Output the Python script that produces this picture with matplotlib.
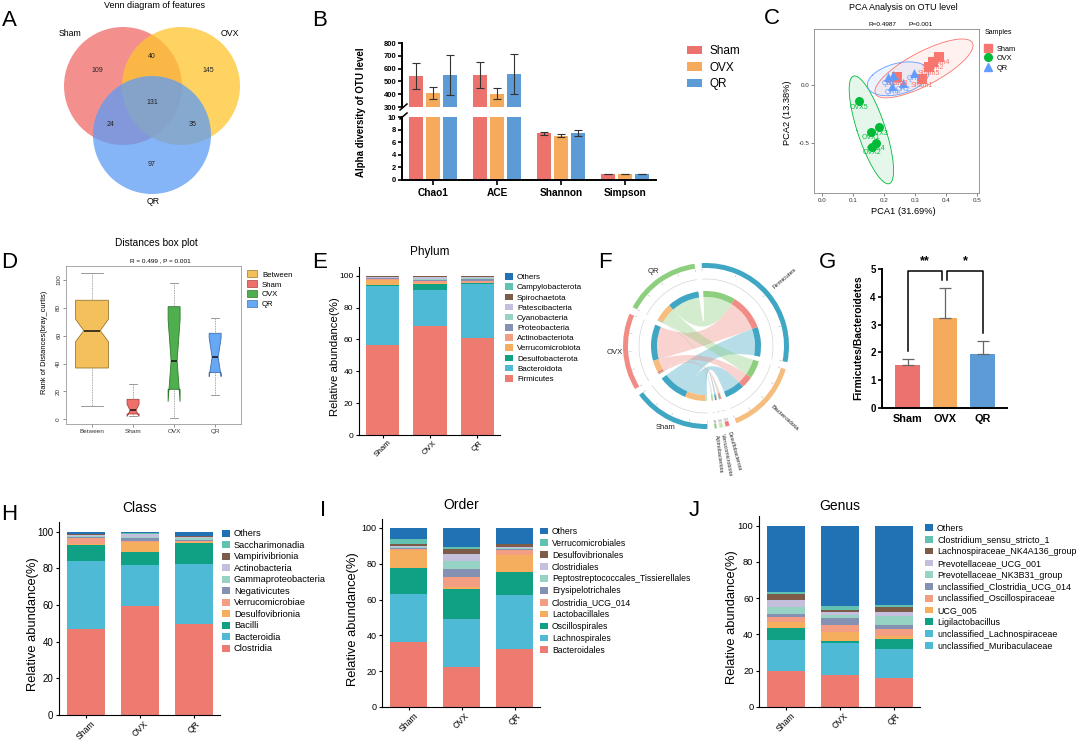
import numpy as np
import matplotlib
matplotlib.use('Agg')
import matplotlib.pyplot as plt
from matplotlib.patches import Circle, Wedge, PathPatch, Patch
from matplotlib.path import Path
from matplotlib.lines import Line2D

plt.rcParams['font.family'] = ['Liberation Sans', 'DejaVu Sans']
plt.rcParams['axes.linewidth'] = 0.8

W, H = 1080, 740

# ---------------- data ----------------
groups = ['Sham', 'OVX', 'QR']

# A  venn counts: Sham only, OVX only, QR only, Sham&OVX, Sham&QR, OVX&QR, all three
venn_counts = [109, 145, 97, 40, 24, 35, 131]

# B  alpha diversity
alpha_idx = ['Chao1', 'ACE', 'Shannon', 'Simpson']
sham_alpha = [545, 548, 7.42, 0.99]
ovx_alpha = [410, 405, 7.05, 0.99]
qr_alpha = [550, 558, 7.42, 0.99]
sham_alpha_sd = [102, 100, 0.20, 0.01]
ovx_alpha_sd = [47, 45, 0.30, 0.01]
qr_alpha_sd = [153, 155, 0.45, 0.02]

# C  PCA scores (sample 1..5)
sham_pc1 = [0.323, 0.357, 0.241, 0.377, 0.345]
sham_pc2 = [0.050, 0.204, 0.070, 0.247, 0.155]
ovx_pc1 = [0.158, 0.161, 0.182, 0.174, 0.120]
ovx_pc2 = [-0.400, -0.529, -0.362, -0.495, -0.135]
qr_pc1 = [0.214, 0.262, 0.295, 0.225, 0.230]
qr_pc2 = [0.070, 0.017, 0.109, -0.006, 0.089]

# D  distance ranks box stats
box_names = ['Between', 'Sham', 'OVX', 'QR']
box_n = [75, 10, 10, 10]
box_whislo = [9.3, 2.6, 1.2, 17.2]
box_q1 = [36.8, 3.8, 21.5, 33.5]
box_med = [63.6, 6.4, 42.0, 44.5]
box_q3 = [85.4, 14.3, 80.8, 61.7]
box_whishi = [105, 25.1, 98, 72.5]
box_cilo = [55.7, 2.0, 12.6, 30.6]
box_cihi = [71.8, 10.8, 71.4, 58.4]

# E  phylum (%)
phylum_names = ['Firmicutes', 'Bacteroidota', 'Desulfobacterota', 'Verrucomicrobiota',
                'Actinobacteriota', 'Proteobacteria', 'Cyanobacteria', 'Patescibacteria',
                'Spirochaetota', 'Campylobacterota', 'Others']
phylum_sham = [56.3, 37.2, 0.8, 3.0, 0.4, 0.6, 0.5, 0.3, 0.5, 0.2, 0.2]
phylum_ovx = [68.6, 22.6, 3.6, 0.6, 1.2, 0.6, 0.5, 1.8, 0.2, 0.1, 0.2]
phylum_qr = [61.1, 33.5, 0.6, 0.4, 1.0, 1.3, 0.4, 1.2, 0.2, 0.1, 0.2]

# G  F/B ratio
fb_ratio = [1.55, 3.25, 1.93]
fb_err = [0.20, 1.07, 0.48]

# H  class (%)
class_names = ['Clostridia', 'Bacteroidia', 'Bacilli', 'Desulfovibrionia', 'Verrucomicrobiae',
               'Negativicutes', 'Gammaproteobacteria', 'Actinobacteria', 'Vampirivibrionia',
               'Saccharimonadia', 'Others']
class_sham = [46.8, 37.0, 8.9, 0.8, 3.1, 0.6, 0.5, 0.4, 0.6, 0.3, 1.0]
class_ovx = [59.2, 22.8, 7.2, 5.0, 0.6, 1.5, 1.0, 1.2, 0.3, 0.5, 0.7]
class_qr = [49.7, 32.8, 11.3, 0.5, 0.4, 0.8, 0.9, 0.6, 0.5, 0.3, 2.2]

# I  order (%)
order_names = ['Bacteroidales', 'Lachnospirales', 'Oscillospirales', 'Lactobacillales',
               'Clostridia_UCG_014', 'Erysipelotrichales', 'Peptostreptococcales_Tissierellales',
               'Clostridiales', 'Desulfovibrionales', 'Verrucomicrobiales', 'Others']
order_sham = [36.5, 26.6, 14.7, 9.9, 0.8, 0.5, 0.5, 0.6, 0.8, 2.8, 6.3]
order_ovx = [22.2, 26.8, 16.8, 1.4, 5.2, 4.8, 4.2, 3.9, 3.1, 0.9, 10.7]
order_qr = [32.2, 30.6, 12.7, 9.3, 2.8, 0.6, 0.6, 0.5, 1.5, 0.2, 9.0]

# J  genus (%)
genus_names = ['unclassified_Muribaculaceae', 'unclassified_Lachnospiraceae', 'Ligilactobacillus',
               'UCG_005', 'unclassified_Oscillospiraceae', 'unclassified_Clostridia_UCG_014',
               'Prevotellaceae_NK3B31_group', 'Prevotellaceae_UCG_001',
               'Lachnospiraceae_NK4A136_group', 'Clostridium_sensu_stricto_1', 'Others']
genus_sham = [20.0, 17.0, 6.3, 3.7, 2.7, 1.3, 4.2, 3.6, 3.3, 1.3, 36.6]
genus_ovx = [17.4, 17.8, 1.3, 5.1, 3.7, 4.0, 1.5, 1.3, 1.5, 2.2, 44.2]
genus_qr = [16.0, 16.0, 5.7, 1.3, 4.0, 2.4, 4.6, 2.5, 2.6, 1.3, 43.6]

# ---------------- styles ----------------
bar_col = ['#EC736D', '#F5AB5B', '#5C9BD5']
gg_col = ['#F8766D', '#00BA38', '#619CFF']
box_face = ['#F3C05C', '#EF706B', '#4FAF4F', '#66A8F3']
box_edge = ['#9A7830', '#A8443F', '#2D7A2D', '#3F70AE']
taxa_pal = ['#EE7B70', '#4FBAD6', '#10A084', '#F4AE5D', '#F39D82', '#8591B3',
            '#97D3C4', '#C4BFDD', '#7C5C48', '#62C2B1', '#2171B5']

fig = plt.figure(figsize=(W / 100, H / 100), dpi=100)


def px_axes(x0, y0, x1, y1):
    return fig.add_axes([x0 / W, 1 - y1 / H, (x1 - x0) / W, (y1 - y0) / H])


def ftext(x, y, s, **kw):
    kw.setdefault('ha', 'center')
    kw.setdefault('va', 'center')
    fig.text(x / W, 1 - y / H, s, **kw)


def px_legend(ax, handles, labels, x, y, fs, row_px, hl_px, hh_px, pad_px):
    fpx = fs * 100 / 72
    return ax.legend(handles, labels, loc='upper left',
                     bbox_to_anchor=(x / W, 1 - (y - 0.6 * fpx) / H),
                     bbox_transform=fig.transFigure, frameon=False, fontsize=fs,
                     borderpad=0, borderaxespad=0, handlelength=hl_px / fpx,
                     handleheight=hh_px / fpx, handletextpad=pad_px / fpx,
                     labelspacing=max(row_px / fpx - 1.15, 0))


letters = [('A', 9, 20), ('B', 320, 20), ('C', 772, 19), ('D', 9, 263), ('E', 320, 263),
           ('F', 605, 263), ('G', 828, 263), ('H', 9, 514), ('I', 323, 511), ('J', 694, 510)]
for s, x, y in letters:
    ftext(x, y, s, fontsize=16)

# ---------------- A: venn ----------------
axa = px_axes(0, 0, 300, 230)
axa.set_xlim(0, 300)
axa.set_ylim(230, 0)
axa.axis('off')
venn_circles = [((123, 86), '#F06B67'), ((181, 86), '#FFC52E'), ((152, 135), '#5D9CF5')]
for (c, col) in venn_circles:
    axa.add_patch(Circle(c, 59, facecolor=col, alpha=0.75, lw=0))
venn_pos = [(97, 71), (208, 71), (152, 164), (152, 57), (111, 125), (193, 125), (152, 102)]
for (x, y), n in zip(venn_pos, venn_counts):
    axa.text(x, y, str(n), fontsize=5, ha='center', va='center', color='#222222')
for (x, y), g in zip([(70, 33), (230, 33), (153, 202)], groups):
    axa.text(x, y, g, fontsize=6.3, ha='center', va='center')
ftext(155, 5, 'Venn diagram of features', fontsize=6.5)

# ---------------- B: alpha diversity ----------------
axb_top = px_axes(402, 43, 656, 107)
axb_bot = px_axes(402, 117, 656, 180)
xb = np.arange(len(alpha_idx))
means = [sham_alpha, ovx_alpha, qr_alpha]
sds = [sham_alpha_sd, ovx_alpha_sd, qr_alpha_sd]
for ax in (axb_top, axb_bot):
    for i in range(3):
        ax.bar(xb + (i - 1) * 0.266, means[i], 0.22, color=bar_col[i], yerr=sds[i],
               capsize=2.8, error_kw=dict(elinewidth=0.8, ecolor='#333333', capthick=0.8),
               label=groups[i])
    ax.set_xlim(-0.484, 3.484)
    for sp in ['top', 'right']:
        ax.spines[sp].set_visible(False)
    ax.spines['left'].set_linewidth(1.4)
    ax.tick_params(axis='y', labelsize=5.5, width=1.2, length=3, pad=1)
axb_top.set_ylim(300, 800)
axb_top.set_yticks(range(300, 801, 100))
axb_top.spines['bottom'].set_visible(False)
axb_top.set_xticks([])
axb_bot.set_ylim(0, 10)
axb_bot.set_yticks(range(0, 11, 2))
axb_bot.spines['bottom'].set_linewidth(1.4)
axb_bot.set_xticks(xb)
axb_bot.set_xticklabels(alpha_idx, fontsize=7.3, fontweight='bold')
axb_bot.tick_params(axis='x', width=1.2, length=3.5, pad=2)
for lab in axb_top.get_yticklabels() + axb_bot.get_yticklabels():
    lab.set_fontweight('bold')
for yb in (107, 116):
    fig.add_artist(Line2D([400 / W, 407 / W], [1 - (yb + 3) / H, 1 - (yb - 3) / H],
                          color='black', lw=1.1))
ftext(361, 112, 'Alpha diversity of OTU level', fontsize=7, fontweight='bold', rotation=90)
hb, lb = axb_top.get_legend_handles_labels()
px_legend(axb_top, hb, lb, 687, 52, 8.5, 18.3, 15, 8, 8)

# ---------------- C: PCA ----------------
axc = px_axes(814, 29, 979, 193)
axc.set_xlim(-0.026, 0.506)
axc.set_ylim(-0.928, 0.485)
pcs = [(sham_pc1, sham_pc2), (ovx_pc1, ovx_pc2), (qr_pc1, qr_pc2)]
marks = ['s', 'o', '^']


def conf_ellipse(ax, xs, ys, color, scale=3.0):
    pts = np.column_stack([xs, ys])
    mu = pts.mean(0)
    vals, vecs = np.linalg.eigh(np.cov(pts.T))
    t = np.linspace(0, 2 * np.pi, 200)
    circ = np.column_stack([np.cos(t), np.sin(t)]) * np.sqrt(vals) * scale
    ell = mu + circ @ vecs.T
    ax.fill(ell[:, 0], ell[:, 1], color=color, alpha=0.1, lw=0)
    ax.plot(ell[:, 0], ell[:, 1], color=color, lw=0.6)


for i, (px, py) in enumerate(pcs):
    conf_ellipse(axc, px, py, gg_col[i])
for i, (g, (px, py)) in enumerate(zip(groups, pcs)):
    axc.scatter(px, py, marker=marks[i], s=42, color=gg_col[i], zorder=3, lw=0)
    for k, (a, b) in enumerate(zip(px, py)):
        axc.annotate(f'{g}{k + 1}', (a, b), xytext=(0, -4.5), textcoords='offset points',
                     ha='center', va='center', fontsize=5, color=gg_col[i], zorder=4)
axc.set_xticks(np.arange(0, 0.51, 0.1))
axc.set_xticklabels([f'{v:.1f}' for v in np.arange(0, 0.51, 0.1)])
axc.set_yticks([0.0, -0.5])
axc.set_yticklabels(['0.0', '-0.5'])
axc.tick_params(labelsize=4.5, length=2, width=0.5, color='#555555', pad=1.5,
                labelcolor='#333333')
for sp in axc.spines.values():
    sp.set_color('#888888')
    sp.set_linewidth(0.6)
ftext(903, 8, 'PCA Analysis on OTU level', fontsize=6.5)
ftext(882, 24, 'R=0.4987', fontsize=4.6)
ftext(921, 24, 'P=0.001', fontsize=4.6)
ftext(903, 211, 'PCA1 (31.69%)', fontsize=6.7)
ftext(788, 113, 'PCA2 (13.38%)', fontsize=6.7, rotation=90)
ftext(985, 33, 'Samples', fontsize=5, ha='left')
hc = [Line2D([], [], marker=m, color=c, ls='none', markersize=5.5) for m, c in zip(marks, gg_col)]
px_legend(axc, hc, groups, 983, 49, 5.3, 10, 10, 8, 4)

# ---------------- D: box plot ----------------
axd = px_axes(66, 266, 241, 424)
box_w = [0.8 * np.sqrt(n / max(box_n)) for n in box_n]
stats = [dict(med=m, q1=a, q3=b, whislo=lo, whishi=hi, cilo=cl, cihi=ch, fliers=[], label=n)
         for n, lo, a, m, b, hi, cl, ch in zip(box_names, box_whislo, box_q1, box_med, box_q3,
                                               box_whishi, box_cilo, box_cihi)]
bp = axd.bxp(stats, positions=[1, 2, 3, 4], widths=box_w, shownotches=True, patch_artist=True,
             showfliers=False, capwidths=[0.65 * w for w in box_w],
             whiskerprops=dict(ls=(0, (1, 1)), color='#8A8A8A', lw=0.6),
             capprops=dict(color='#8A8A8A', lw=0.6),
             medianprops=dict(color='#111111', lw=1.1))
for patch, fc, ec in zip(bp['boxes'], box_face, box_edge):
    patch.set_facecolor(fc)
    patch.set_edgecolor(ec)
    patch.set_linewidth(0.6)
axd.set_xlim(0.366, 4.63)
axd.set_ylim(-3.4, 110)
axd.set_yticks(range(0, 101, 20))
axd.tick_params(labelsize=4.6, length=2, width=0.5, color='#666666', labelcolor='#333333', pad=1.5)
for lab in axd.get_yticklabels():
    lab.set_rotation(90)
    lab.set_va('center')
for sp in axd.spines.values():
    sp.set_color('#9A9A9A')
    sp.set_linewidth(0.6)
ftext(156, 243, 'Distances box plot', fontsize=7.3)
ftext(160, 261, 'R = 0.499 , P = 0.001', fontsize=4.6)
ftext(45, 342, 'Rank of Distances(bray_curtis)', fontsize=5.4, rotation=90)
hd = [Patch(facecolor=fc, edgecolor=ec, lw=0.5) for fc, ec in zip(box_face, box_edge)]
px_legend(axd, hd, box_names, 247, 275, 5.6, 10.7, 10, 8, 5)


# ---------------- stacked bars ----------------
def stacked(box, names, cols, title, title_y, ylab_x, leg, leg_colors=None):
    x0, y0, x1, y1, ymax = box
    ax = px_axes(x0, y0, x1, y1)
    vals = np.array(cols).T
    bottom = np.zeros(3)
    for k, name in enumerate(names):
        ax.bar(np.arange(3), vals[k], 0.7, bottom=bottom, color=taxa_pal[k], label=name, lw=0)
        bottom += vals[k]
    ax.set_xlim(-0.5, 2.48)
    ax.set_ylim(0, ymax)
    ax.set_yticks(range(0, 101, 20))
    ax.set_xticks(range(3))
    ax.set_xticklabels(groups, rotation=45)
    for sp in ['top', 'right']:
        ax.spines[sp].set_visible(False)
    ax.spines['left'].set_bounds(0, ymax)
    fs = leg[2]
    ax.tick_params(length=2.5, width=0.8, pad=1.5)
    ax.tick_params(axis='x', labelsize=min(fs, 6.2), pad=0.5)
    ax.tick_params(axis='y', labelsize=fs + 0.3)
    ftext((x0 + x1) / 2, title_y, title, fontsize=leg[5])
    ftext(ylab_x, (y0 + y1) / 2 + 6, 'Relative abundance(%)', fontsize=leg[6], rotation=90)
    cl = leg_colors if leg_colors is not None else taxa_pal
    hh = [Patch(facecolor=c, lw=0) for c in cl[:len(names)]][::-1]
    px_legend(ax, hh, names[::-1], leg[0], leg[1], fs, leg[3], leg[4], leg[4] - 1, 4)
    return ax


# legend spec: x, y_first, fontsize, row_px, handle_px, title_fs, ylabel_fs
axe = stacked((359, 267, 500, 435, 105.5), phylum_names, [phylum_sham, phylum_ovx, phylum_qr],
              'Phylum', 252, 335, (505, 278, 5.8, 11.4, 8, 8.5, 8.2))
axh = stacked((59, 522, 220, 715, 105.3), class_names, [class_sham, class_ovx, class_qr],
              'Class', 508, 33, (222, 535, 6.7, 13.2, 8, 10, 9.3))
axi = stacked((382, 519, 540, 707, 105), order_names, [order_sham, order_ovx, order_qr],
              'Order', 505, 353, (540, 532, 6.2, 12.8, 8, 10, 9.3))
genus_leg_col = taxa_pal[:]
genus_leg_col[0] = taxa_pal[1]
axj = stacked((759, 516, 920, 707, 105.3), genus_names, [genus_sham, genus_ovx, genus_qr],
              'Genus', 506, 732, (925, 529, 6.4, 13.0, 8, 10, 9.3), genus_leg_col)

# ---------------- F: chord diagram ----------------
axf = px_axes(585, 255, 835, 475)
axf.set_xlim(585, 835)
axf.set_ylim(H - 475, H - 255)
axf.axis('off')
cx, cy = 706, H - 346
r_in, r_ring, r_o0, r_o1 = 49, 55, 78, 83
chord_phyla = phylum_names[:5]
mat = np.array([phylum_sham[:5], phylum_ovx[:5], phylum_qr[:5]])  # group x phylum
phy_col = ['#3FA6C4', '#F6BE7E', '#F07D76', '#C3E6B3', '#8DCF7F']
grp_ch_col = ['#3FA6C4', '#F08C84', '#8DCF7F']
sizes = list(mat.sum(0)) + list(mat.sum(1))
sec_col = phy_col + grp_ch_col
sec_lab = chord_phyla + groups
gaps = [5, 5, 2, 2, 5, 5, 5, 5]
deg = (360 - sum(gaps)) / sum(sizes)
sec_start = []
a = 93.0
for s, g in zip(sizes, gaps):
    sec_start.append(a)
    a -= s * deg + g


def pol(r, ang):
    t = np.radians(ang)
    return (cx + r * np.cos(t), cy + r * np.sin(t))


def arc_pts(r, a0, a1, n=40):
    return [pol(r, t) for t in np.linspace(a0, a1, n)]


# sub-arcs: phylum sector ordered QR, OVX, Sham; group sector ordered reversed phyla
phy_sub = {}
for j in range(5):
    a = sec_start[j]
    for i in [2, 1, 0]:
        phy_sub[(i, j)] = (a, a - mat[i, j] * deg)
        a -= mat[i, j] * deg
grp_sub = {}
for i in range(3):
    a = sec_start[5 + i]
    for j in [4, 3, 2, 1, 0]:
        grp_sub[(i, j)] = (a, a - mat[i, j] * deg)
        a -= mat[i, j] * deg

for i in range(3):
    for j in range(5):
        g0, g1 = grp_sub[(i, j)]
        p0, p1 = phy_sub[(i, j)]
        verts = arc_pts(r_in, g0, g1)
        codes = [Path.MOVETO] + [Path.LINETO] * (len(verts) - 1)
        verts += [(cx, cy), pol(r_in, p0)]
        codes += [Path.CURVE3, Path.CURVE3]
        pa = arc_pts(r_in, p0, p1)[1:]
        verts += pa
        codes += [Path.LINETO] * len(pa)
        verts += [(cx, cy), pol(r_in, g0)]
        codes += [Path.CURVE3, Path.CURVE3]
        axf.add_patch(PathPatch(Path(verts, codes), facecolor=grp_ch_col[i], alpha=0.38,
                                lw=0))
        axf.add_patch(Wedge((cx, cy), r_ring, g1, g0, width=r_ring - r_in,
                            facecolor=phy_col[j], lw=0))
        axf.add_patch(Wedge((cx, cy), r_ring, p1, p0, width=r_ring - r_in,
                            facecolor=grp_ch_col[i], lw=0))

for k, (s0, s) in enumerate(zip(sec_start, sizes)):
    s1 = s0 - s * deg
    axf.add_patch(Wedge((cx, cy), r_o1, s1, s0, width=r_o1 - r_o0, facecolor=sec_col[k], lw=0))
    gx, gy = zip(*arc_pts(67, s0, s1))
    axf.plot(gx, gy, color='#D5D5D5', lw=0.5)
    for f in np.linspace(0, 1, 5):
        t = s0 - f * s * deg
        (ax0, ay0), (ax1, ay1) = pol(r_o0 - 1, t), pol(r_o0 - 3, t)
        axf.plot([ax0, ax1], [ay0, ay1], color='#BBBBBB', lw=0.4)
    mid = s0 - s * deg / 2
    if k < 5:
        tx, ty = pol(89, mid)
        axf.text(tx, ty, sec_lab[k], fontsize=4.6 if k < 2 else 3.8, rotation=mid,
                 rotation_mode='anchor', ha='left', va='center', color='#222222')
    else:
        tx, ty = pol(91, mid)
        axf.text(tx, ty, sec_lab[k], fontsize=5.5, ha='center', va='center', color='#222222')

# ---------------- G: F/B ratio ----------------
axg = px_axes(882, 269, 1007, 408)
xg = np.arange(3)
axg.bar(xg, fb_ratio, 0.66, color=bar_col, yerr=[np.zeros(3), fb_err],
        error_kw=dict(elinewidth=0.9, ecolor='#666666', capsize=4, capthick=0.9))
axg.set_xlim(-0.68, 2.65)
axg.set_ylim(0, 5)
axg.set_yticks(range(6))
axg.set_xticks(xg)
axg.set_xticklabels(groups)
for sp in ['top', 'right']:
    axg.spines[sp].set_visible(False)
for sp in ['left', 'bottom']:
    axg.spines[sp].set_linewidth(1.4)
axg.tick_params(axis='y', labelsize=7, width=1.2, length=3, pad=1.5)
axg.tick_params(axis='x', labelsize=7.8, length=0, pad=4)
for lab in axg.get_xticklabels() + axg.get_yticklabels():
    lab.set_fontweight('bold')
top_y = 4.93
tops = [v + e + 0.3 for v, e in zip(fb_ratio, fb_err)]
for (i0, i1, stars, xl, xr) in [(0, 1, '**', 0, 0.91), (1, 2, '*', 1.06, 2)]:
    axg.plot([xl, xl, xr, xr], [tops[i0], top_y, top_y, tops[i1]], color='black', lw=1.1,
             clip_on=False)
    axg.text((xl + xr) / 2, top_y + 0.12, stars, ha='center', va='bottom', fontsize=9,
             fontweight='bold', clip_on=False)
ftext(858, 338, 'Firmicutes/Bacteroidetes', fontsize=7.5, fontweight='bold', rotation=90)

fig.savefig('out.png', dpi=100)
